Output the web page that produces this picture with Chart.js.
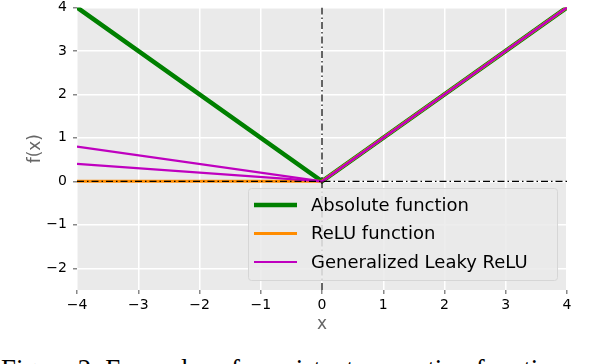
<!DOCTYPE html>
<html>
<head>
<meta charset="utf-8">
<script src="https://cdn.jsdelivr.net/npm/chart.js@4.4.1/dist/chart.umd.min.js"></script>
<style>
  html, body { margin: 0; padding: 0; background: #fff; overflow: hidden; }
  #wrap { position: relative; width: 594px; height: 364px; overflow: hidden; }
  #box { position: absolute; left: 0; top: -7px; width: 594px; height: 342px; }
  #caption {
    position: absolute; left: 1px; top: 355px; white-space: nowrap;
    font-family: "Liberation Serif", "DejaVu Serif", serif; font-size: 26.8px; line-height: 28px; color: #000;
  }
</style>
</head>
<body>
<div id="wrap">
  <div id="box"><canvas id="chart"></canvas></div>
  <div id="caption">Figure 2: Examples of consistent correction functions</div>
</div>
<script>
const xs = [-4, 0, 4];
const absValues = [4, 0, 4];
const reluValues = [0, 0, 4];
const leakyValues1 = [0.8, 0, 4];
const leakyValues2 = [0.4, 0, 4];
const xTicks = [-4, -3, -2, -1, 0, 1, 2, 3, 4];
const yTicks = [-2, -1, 0, 1, 2, 3, 4];
const xRange = [-4, 4];
const yRange = [-2.5, 4];

const toPoints = (vals) => xs.map((x, i) => ({ x: x, y: vals[i] }));
const minusSign = (v) => String(v).replace('-', '\u2212');

// grey plot background
const bgPlugin = {
  id: 'bg',
  beforeDraw(chart) {
    const { ctx, chartArea: a } = chart;
    ctx.save();
    ctx.fillStyle = '#eaeaea';
    ctx.fillRect(a.left, a.top, a.right - a.left, a.bottom - a.top);
    ctx.restore();
  }
};

// legend box inside the plot (canvas is shifted up by 7px)
const legendPlugin = {
  id: 'innerLegend',
  afterDraw(chart) {
    const ctx = chart.ctx;
    const items = chart.data.datasets.filter(d => d.inLegend);
    const x0 = 248, y0 = 188 + 7, w = 309, h = 92;
    ctx.save();
    ctx.fillStyle = 'rgba(234,234,234,0.85)';
    ctx.strokeStyle = '#d6d6d6';
    ctx.lineWidth = 1;
    ctx.beginPath();
    ctx.roundRect(x0 + 0.5, y0 + 0.5, w, h, 3);
    ctx.fill();
    ctx.stroke();
    ctx.font = '18px "DejaVu Sans"';
    ctx.textBaseline = 'middle';
    ctx.fillStyle = '#000';
    items.forEach((d, i) => {
      const y = 205 + 7 + i * 28.5;
      ctx.strokeStyle = d.borderColor;
      ctx.lineWidth = d.borderWidth;
      ctx.beginPath();
      ctx.moveTo(254, y);
      ctx.lineTo(297, y);
      ctx.stroke();
      ctx.fillText(d.label, 311, y + 1);
    });
    ctx.restore();
  }
};

const dashDot = [7, 3, 1.5, 3];

new Chart(document.getElementById('chart'), {
  type: 'scatter',
  data: {
    datasets: [
      { label: 'Absolute function', inLegend: true, order: 5, data: toPoints(absValues), borderColor: '#008000', borderWidth: 4.5, showLine: true, pointRadius: 0 },
      { label: 'ReLU function', inLegend: true, order: 4, data: toPoints(reluValues), borderColor: '#ff8c00', borderWidth: 3, showLine: true, pointRadius: 0 },
      { label: 'Generalized Leaky ReLU', inLegend: true, order: 3, data: toPoints(leakyValues1), borderColor: '#bf00bf', borderWidth: 2.2, showLine: true, pointRadius: 0 },
      { label: 'leaky2', order: 2, data: toPoints(leakyValues2), borderColor: '#bf00bf', borderWidth: 2.2, showLine: true, pointRadius: 0 },
      { label: 'xaxis', order: 1, data: [{ x: xRange[0], y: 0 }, { x: xRange[1], y: 0 }], borderColor: '#000', borderWidth: 1.2, borderDash: dashDot, showLine: true, pointRadius: 0 },
      { label: 'yaxis', order: 0, data: [{ x: 0, y: yRange[0] }, { x: 0, y: yRange[1] }], borderColor: '#000', borderWidth: 1.2, borderDash: dashDot, showLine: true, pointRadius: 0 }
    ]
  },
  options: {
    responsive: true,
    maintainAspectRatio: false,
    animation: false,
    layout: { padding: { left: 0, right: 27, top: 0, bottom: 0 } },
    plugins: {
      legend: { display: false },
      tooltip: { enabled: false }
    },
    scales: {
      x: {
        type: 'linear',
        min: xRange[0], max: xRange[1],
        afterBuildTicks: (s) => { s.ticks = xTicks.map(v => ({ value: v })); },
        afterFit: (s) => { s.height = 45; },
        border: { display: false },
        grid: { color: '#ffffff', lineWidth: 1.5, tickLength: 4, tickColor: '#888', drawTicks: true },
        ticks: { color: '#000', font: { family: 'DejaVu Sans', size: 14 }, padding: 3, maxRotation: 0, callback: (v) => minusSign(v) },
        title: { display: true, text: 'x', color: '#666', font: { family: 'DejaVu Sans', size: 17 }, padding: { top: 0, bottom: 0 } }
      },
      y: {
        type: 'linear',
        min: yRange[0], max: yRange[1],
        afterBuildTicks: (s) => { s.ticks = yTicks.map(v => ({ value: v })); },
        afterFit: (s) => { s.width = 77; },
        border: { display: false },
        grid: { color: '#ffffff', lineWidth: 1.5, tickLength: 4, tickColor: '#888', drawTicks: true },
        ticks: { color: '#000', font: { family: 'DejaVu Sans', size: 14 }, padding: 6, callback: (v) => minusSign(v) },
        title: { display: true, text: 'f(x)', color: '#666', font: { family: 'DejaVu Sans', size: 17 }, padding: { top: 25, bottom: 0 } }
      }
    }
  },
  plugins: [bgPlugin, legendPlugin]
});
</script>
</body>
</html>
